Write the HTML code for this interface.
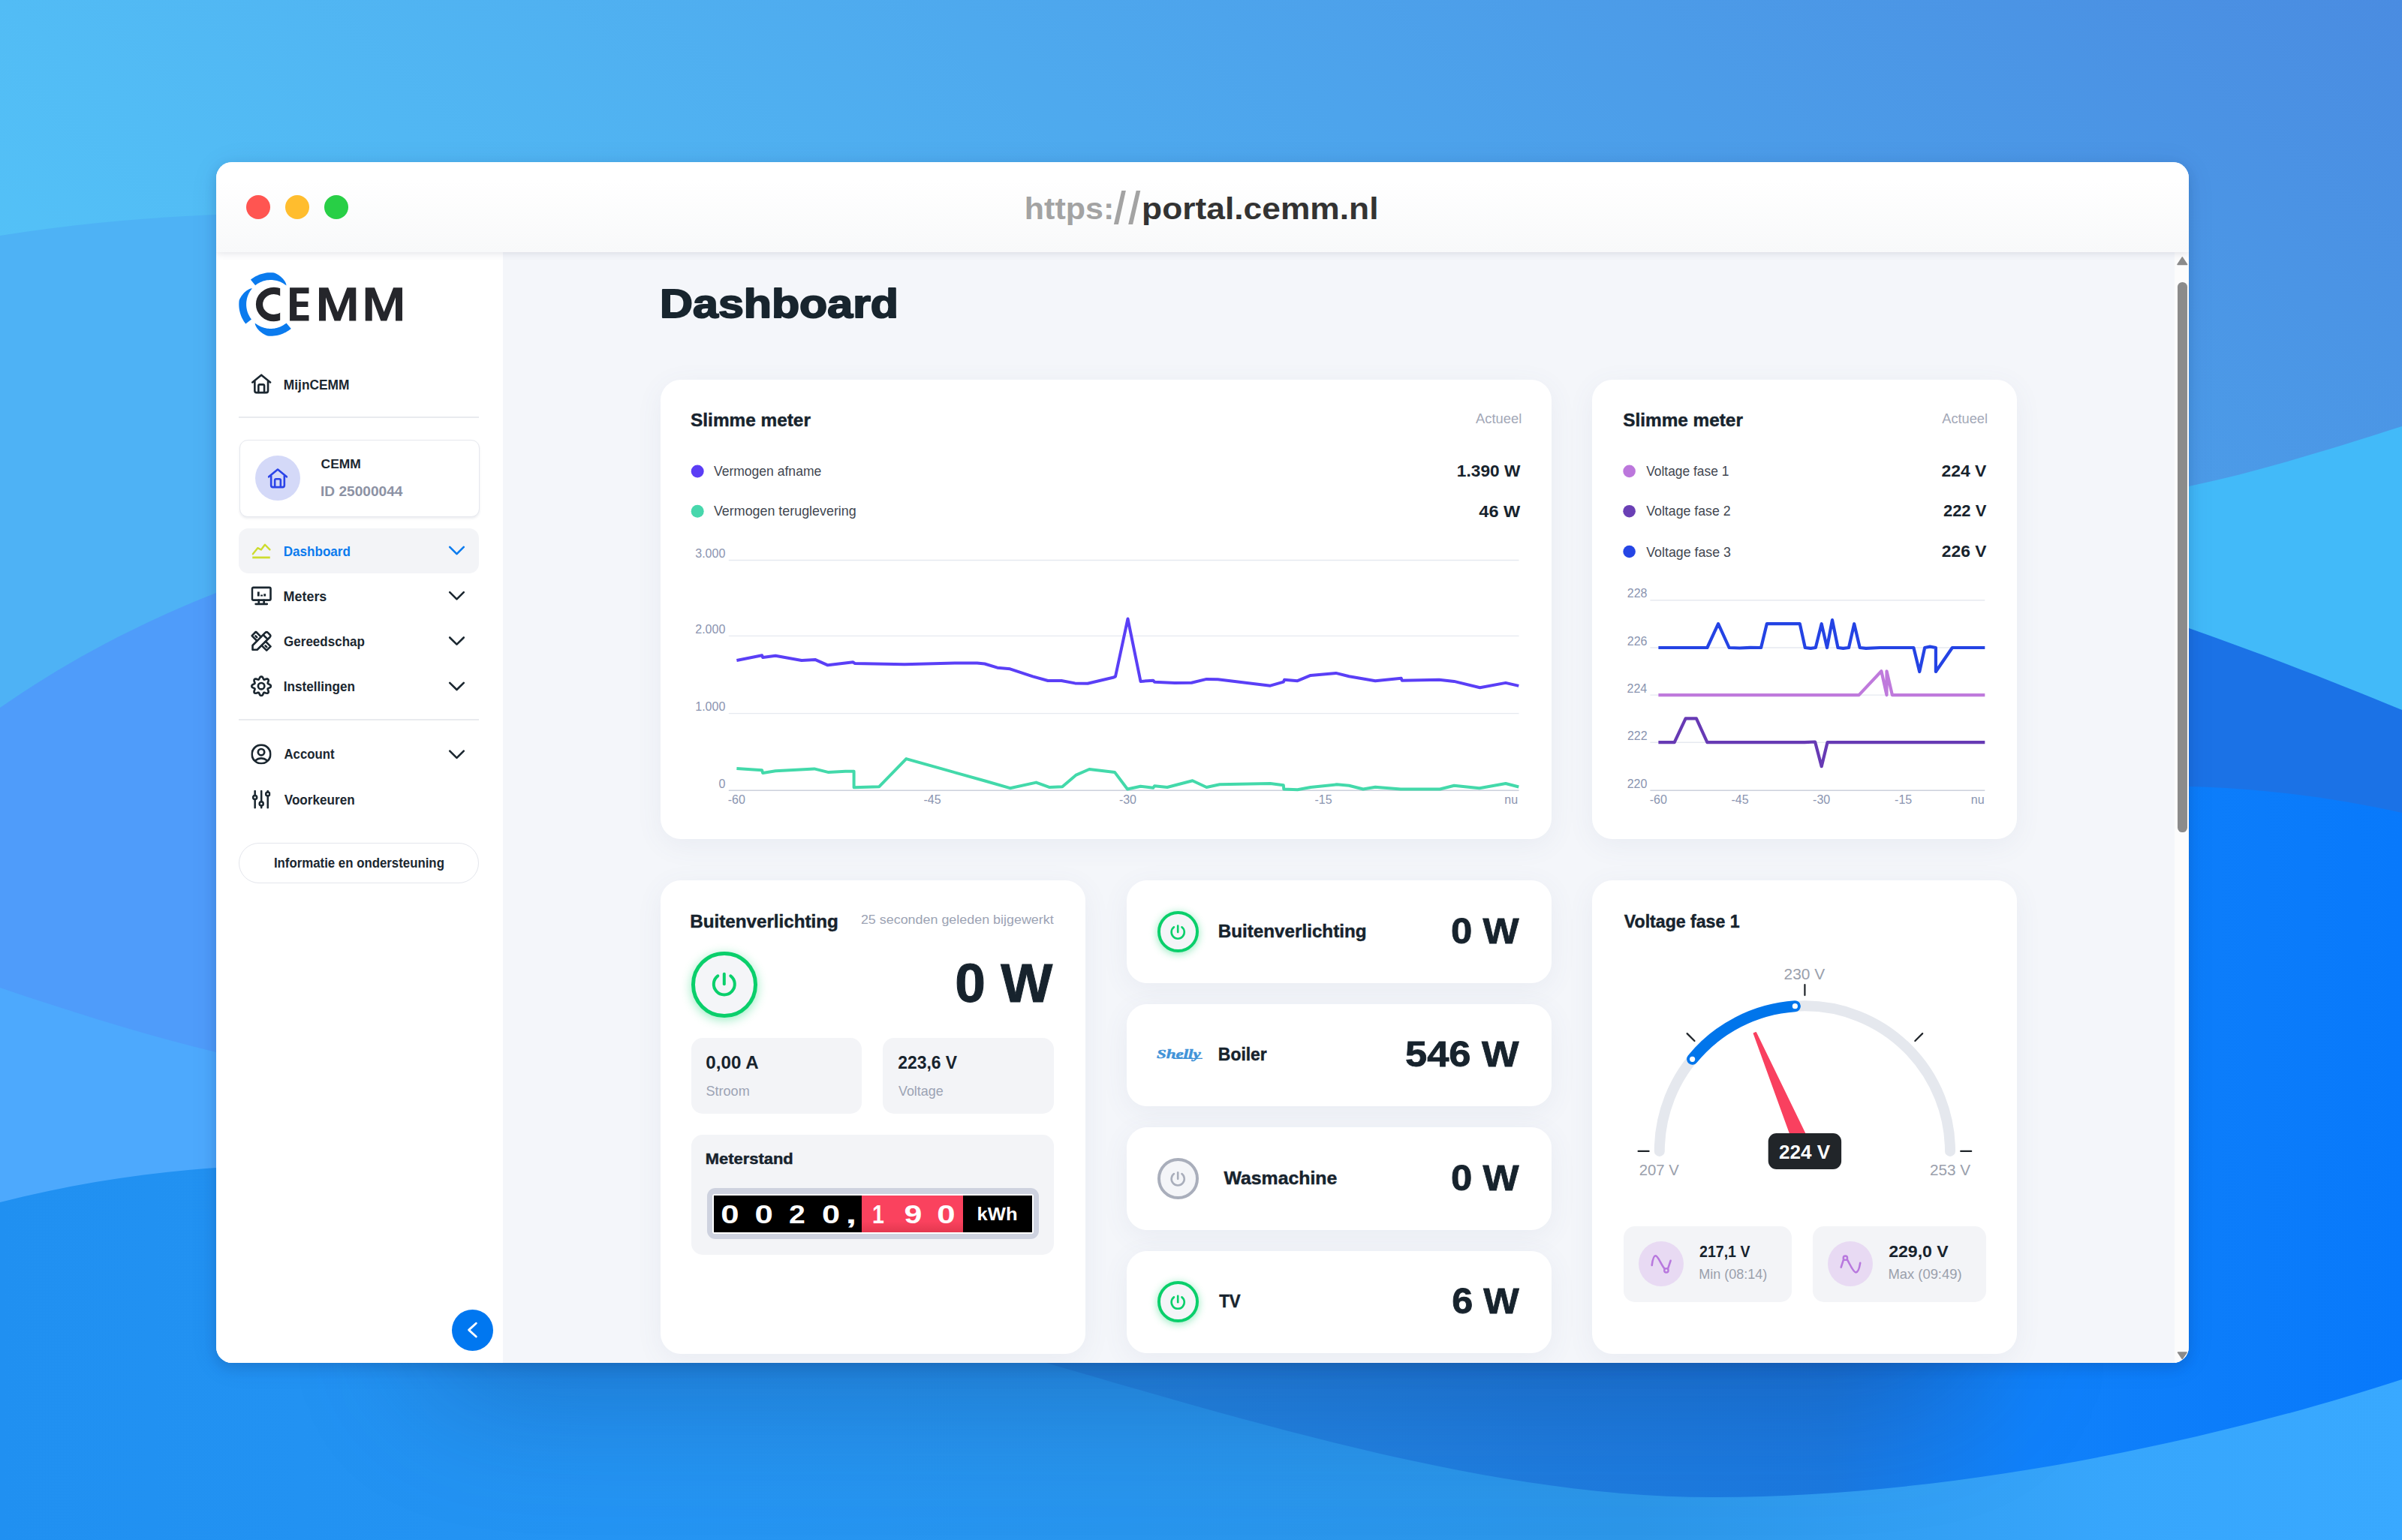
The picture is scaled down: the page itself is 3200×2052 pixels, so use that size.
<!DOCTYPE html><html lang="nl"><head><meta charset="utf-8"><title>CEMM Dashboard</title><style>
*{margin:0;padding:0;box-sizing:border-box}
html,body{width:3200px;height:2052px;overflow:hidden;background:#2a8ff0;font-family:"Liberation Sans",sans-serif}
.bg{position:absolute;left:0;top:0}
.abs{position:absolute}
.winshadow{position:absolute;left:560px;top:1650px;width:2080px;height:210px;border-radius:105px;background:rgba(10,50,115,.30);filter:blur(85px)}
.win{position:absolute;left:288px;top:216px;width:2628px;height:1599.5px;border-radius:21px;background:#F4F6FA;overflow:hidden;}
.winsh{position:absolute;left:288px;top:216px;width:2628px;height:1599.5px;border-radius:21px;box-shadow:0 6px 16px rgba(10,40,100,.18),0 4px 40px rgba(10,40,100,.07)}
.titlebar{position:absolute;left:0;top:0;width:2628px;height:120px;background:linear-gradient(#ffffff 20%,#F8F9FA);box-shadow:0 1px 10px rgba(60,70,100,.16);z-index:5}
.dot{position:absolute;top:44px;width:32px;height:32px;border-radius:50%}
.sidebar{position:absolute;left:0;top:120px;width:382px;height:1480px;background:#fff}
.card{position:absolute;background:#fff;border-radius:27px;box-shadow:0 8px 36px rgba(90,100,140,.07)}
.sub{position:absolute;background:#F3F4F7;border-radius:15px}
.scroll{position:absolute;left:2609px;top:120px;width:19px;height:1480px;background:#FCFCFC}
svg.ov{position:absolute;left:0;top:0;overflow:visible;z-index:10}
text{font-family:"Liberation Sans",sans-serif}
</style></head><body>

<svg class="bg" width="3200" height="2052" viewBox="0 0 3200 2052">
 <defs>
  <linearGradient id="g0" gradientUnits="userSpaceOnUse" x1="-261" y1="303" x2="1365" y2="-1584">
   <stop offset="0" stop-color="#54C4F8"/><stop offset="0.161" stop-color="#52BCF5"/><stop offset="0.58" stop-color="#4DA4EC"/><stop offset="1" stop-color="#4A8CE1"/>
  </linearGradient>
  <linearGradient id="gBot" gradientUnits="userSpaceOnUse" x1="0" y1="0" x2="3200" y2="0">
   <stop offset="0" stop-color="#2090F1"/><stop offset="0.25" stop-color="#2494F3"/><stop offset="0.68" stop-color="#2C96E8"/><stop offset="0.88" stop-color="#37A6FC"/><stop offset="1" stop-color="#39A9FF"/>
  </linearGradient>
  <linearGradient id="gR3" gradientUnits="userSpaceOnUse" x1="1300" y1="0" x2="3200" y2="0">
   <stop offset="0" stop-color="#2689E3"/><stop offset="0.4" stop-color="#1F7CDE"/><stop offset="0.6" stop-color="#1B79E0"/><stop offset="0.74" stop-color="#1081FA"/><stop offset="1" stop-color="#0879FB"/>
  </linearGradient>
 </defs>
 <rect width="3200" height="2052" fill="url(#g0)"/>
 <!-- left zones -->
 <path d="M0,314 C100,298 200,290 288,286 S900,270 1400,300 L1400,2052 L0,2052 Z" fill="#4EB2F5"/>
 <path d="M0,943 C90,880 190,828 288,790 S700,680 1400,640 L1400,2052 L0,2052 Z" fill="#4F9CFA"/>
 <path d="M0,1316 C100,1350 190,1378 288,1402 S800,1500 1400,1560 L1400,2052 L0,2052 Z" fill="#4DA9FD"/>
 <!-- right zones -->
 <path d="M3200,568 C3100,600 3010,628 2916,648 S2500,740 2000,760 L2000,2052 L3200,2052 Z" fill="#42BAF9"/>
 <path d="M3200,946 C3100,905 3010,870 2916,837 S2500,700 2000,640 L2000,2052 L3200,2052 Z" fill="#1B72E6"/>
 <path d="M3200,1083 C3110,1063 3010,1050 2916,1048 S2400,1080 2000,1200 L1300,1700 L1300,2052 L3200,2052 Z" fill="url(#gR3)"/>
 <!-- bottom zone -->
 <path d="M0,1602 C95,1578 190,1563 288,1556 S800,1530 1100,1600 C1200,1760 1300,1790 1380,1812 C1700,1905 2000,1995 2282,1995 C2600,1995 2950,1920 3200,1838 L3200,2052 L0,2052 Z" fill="url(#gBot)"/>
</svg>

<div class="winshadow"></div><div class="winsh"></div>
<div class="win">
<div class="titlebar"><div class="dot" style="left:40px;background:#FF5551"></div><div class="dot" style="left:92px;background:#FFBD2E"></div><div class="dot" style="left:144px;background:#28CF46"></div></div>
<div class="sidebar"></div>
<div class="abs" style="left:30.0px;top:339.0px;width:320.0px;height:1.5px;background:#E9EBEF"></div>
<div class="abs" style="left:30.5px;top:370.0px;width:320.0px;height:103.0px;border:1.5px solid #E6E8EE;border-radius:11px;background:#fff;box-shadow:0 2px 3px rgba(80,90,120,.10)"></div>
<div class="abs" style="left:52.0px;top:391.4px;width:60.0px;height:60.0px;border-radius:50%;background:#D4D9F8"></div>
<div class="abs" style="left:30.0px;top:488.0px;width:320.0px;height:59.5px;border-radius:13px;background:#F3F4F7"></div>
<div class="abs" style="left:30.0px;top:742.3px;width:320.0px;height:1.5px;background:#E9EBEF"></div>
<div class="abs" style="left:30.0px;top:907.0px;width:320.0px;height:54.0px;border-radius:27px;border:1.5px solid #E4E6EC;background:#fff"></div>
<div class="abs" style="left:313.6px;top:1528.7px;width:55.0px;height:55.0px;border-radius:50%;background:#0077F0"></div>
<div class="card" style="left:592.0px;top:290.0px;width:1186.7px;height:612.0px;"></div>
<div class="card" style="left:1833.3px;top:290.0px;width:566.2px;height:612.0px;"></div>
<div class="card" style="left:592.0px;top:957.4px;width:565.7px;height:630.3px;"></div>
<div class="card" style="left:1212.8px;top:957.4px;width:565.9px;height:136.6px;"></div>
<div class="card" style="left:1212.8px;top:1121.8px;width:565.9px;height:136.6px;"></div>
<div class="card" style="left:1212.8px;top:1286.1px;width:565.9px;height:136.6px;"></div>
<div class="card" style="left:1212.8px;top:1450.5px;width:565.9px;height:136.6px;"></div>
<div class="card" style="left:1833.3px;top:957.4px;width:566.2px;height:630.3px;"></div>
<div class="sub" style="left:633.3px;top:1167.1px;width:227.0px;height:101.3px;"></div>
<div class="sub" style="left:887.7px;top:1167.1px;width:228.7px;height:101.3px;"></div>
<div class="sub" style="left:633.3px;top:1296.0px;width:483.1px;height:160.4px;"></div>
<div class="sub" style="left:1874.6px;top:1417.8px;width:224.6px;height:101.2px;"></div>
<div class="sub" style="left:2127.0px;top:1417.8px;width:231.2px;height:101.2px;"></div>
<div class="abs" style="left:653.8px;top:1367.4px;width:441.8px;height:67.9px;border-radius:11px;background:#CED2DF"></div>
<div class="abs" style="left:661.3px;top:1374.6px;width:427.7px;height:53.3px;border-radius:3px;background:#fff"></div>
<div class="abs" style="left:663.2px;top:1376.7px;width:423.8px;height:49.3px;background:#000"></div>
<div class="abs" style="left:860.3px;top:1376.7px;width:134.6px;height:49.3px;background:linear-gradient(#FA425E 70%,#E3384F)"></div>
<div class="abs" style="left:633.3px;top:1052.2px;width:87.5px;height:87.5px;border-radius:50%;border:5.6px solid #0ACF6B;background:#F4F5F8;box-shadow:0 3px 14px rgba(10,207,107,.42)"></div>
<div class="abs" style="left:1253.9px;top:998.2px;width:54.7px;height:54.7px;border-radius:50%;border:4.1px solid #0ACF6B;background:#F4F5F8;box-shadow:0 2px 11px rgba(10,207,107,.45);"></div>
<div class="abs" style="left:1253.9px;top:1327.0px;width:54.7px;height:54.7px;border-radius:50%;border:4.1px solid #A9AEBB;background:#F4F5F8;"></div>
<div class="abs" style="left:1253.9px;top:1491.4px;width:54.7px;height:54.7px;border-radius:50%;border:4.1px solid #0ACF6B;background:#F4F5F8;box-shadow:0 2px 11px rgba(10,207,107,.45);"></div>
<div class="abs" style="left:1895.2px;top:1438.0px;width:60.3px;height:60.3px;border-radius:50%;background:#E8DAF3"></div>
<div class="abs" style="left:2147.2px;top:1438.0px;width:60.3px;height:60.3px;border-radius:50%;background:#E8DAF3"></div>
<div class="scroll"></div>
<div class="abs" style="left:2613.0px;top:159.6px;width:12.5px;height:733.0px;border-radius:6.3px;background:#8B8B8B"></div>
<svg class="ov" width="2628" height="1600" viewBox="288 216 2628 1600">
<text x="1364.80" y="291.8" font-size="41.50" font-weight="700" fill="#A3A3A3" textLength="119.44" lengthAdjust="spacingAndGlyphs">https:</text>
<polygon points="1483.9,298.9 1489.9,298.9 1499.9,254.1 1494.2,254.1" fill="#A3A3A3"/>
<polygon points="1503.2,298.9 1509.1,298.9 1519.3,254.1 1513.7,254.1" fill="#A3A3A3"/>
<text x="1521.08" y="291.8" font-size="41.50" font-weight="700" fill="#333333" textLength="315.46" lengthAdjust="spacingAndGlyphs">portal.cemm.nl</text>
<path d="M2901 352.5 L2907.3 342.8 L2913.6 352.5 Z" fill="#8B8B8B" stroke="#8B8B8B" stroke-width="1.5" stroke-linejoin="round"/>
<path d="M2901.5 1802 L2907.3 1810.5 L2913.1 1802 Z" fill="#8B8B8B" stroke="#8B8B8B" stroke-width="1.5" stroke-linejoin="round"/>
<polygon fill="#25262B" points="386.06,383.30 411.50,383.30 411.50,390.88 395.26,390.88 395.26,401.70 410.41,401.70 410.41,408.95 395.26,408.95 395.26,420.10 411.50,420.10 411.50,427.46 386.06,427.46"/>
<polygon fill="#25262B" points="425.03,383.30 437.26,383.30 449.92,415.77 462.37,383.30 474.28,383.30 474.28,427.46 465.30,427.46 465.30,396.29 453.50,427.46 445.59,427.46 434.01,396.29 434.01,427.46 425.03,427.46"/>
<polygon fill="#25262B" points="486.73,383.30 498.96,383.30 511.63,415.77 524.07,383.30 535.98,383.30 535.98,427.46 527.00,427.46 527.00,396.29 515.20,427.46 507.30,427.46 495.71,396.29 495.71,427.46 486.73,427.46"/>
<clipPath id="cclip"><rect x="330" y="370" width="43.18" height="70"/></clipPath>
<ellipse cx="364.95" cy="405.49" rx="19.43" ry="18.13" fill="none" stroke="#25262B" stroke-width="9.2" clip-path="url(#cclip)"/>
<polygon fill="#0B7BEE" points="381.49,380.60 381.17,378.38 380.41,376.53 379.44,374.80 378.31,373.17 377.05,371.62 375.65,370.16 374.15,368.78 372.53,367.49 370.82,366.29 369.01,365.19 367.12,364.19 365.13,363.44 363.05,363.27 360.97,363.20 358.89,363.23 356.81,363.37 354.74,363.61 352.68,363.95 350.65,364.39 348.64,364.93 346.65,365.57 344.71,366.30 342.79,367.13 340.93,368.05 339.11,369.07 337.34,370.17 335.63,371.36 333.98,372.63 340.15,380.24 341.42,379.27 342.73,378.35 344.09,377.51 345.49,376.73 346.92,376.02 348.39,375.38 349.89,374.82 351.41,374.33 352.95,373.91 354.52,373.57 356.10,373.31 357.69,373.13 359.28,373.03 360.88,373.00 362.48,373.05 364.08,373.19 365.66,373.40 367.24,373.69 368.80,374.05 370.33,374.49 371.85,375.01 373.34,375.60 374.79,376.26 376.21,377.00 377.60,377.80 378.94,378.67 380.24,379.61 381.49,380.60"/>
<polygon fill="#0B7BEE" points="336.07,384.18 333.84,384.46 331.98,385.19 330.24,386.13 328.58,387.23 327.01,388.47 325.52,389.83 324.12,391.31 322.80,392.91 321.58,394.60 320.44,396.39 319.41,398.26 318.63,400.24 318.42,402.31 318.31,404.39 318.31,406.48 318.41,408.56 318.61,410.63 318.92,412.69 319.32,414.73 319.82,416.75 320.43,418.75 321.13,420.71 321.92,422.63 322.82,424.52 323.80,426.35 324.87,428.14 326.03,429.87 327.27,431.54 334.99,425.51 334.04,424.22 333.15,422.89 332.32,421.52 331.57,420.11 330.89,418.66 330.27,417.18 329.73,415.68 329.27,414.15 328.88,412.59 328.57,411.02 328.34,409.44 328.18,407.85 328.11,406.25 328.11,404.65 328.19,403.05 328.35,401.46 328.59,399.88 328.91,398.31 329.30,396.76 329.77,395.23 330.31,393.72 330.93,392.24 331.61,390.80 332.37,389.39 333.20,388.02 334.09,386.69 335.05,385.41 336.07,384.18"/>
<polygon fill="#0B7BEE" points="339.71,430.40 340.04,432.64 340.83,434.50 341.82,436.23 342.97,437.88 344.26,439.43 345.68,440.90 347.21,442.28 348.86,443.57 350.60,444.77 352.44,445.86 354.37,446.85 356.39,447.59 358.49,447.75 360.60,447.80 362.71,447.75 364.81,447.59 366.90,447.33 368.98,446.96 371.04,446.49 373.07,445.92 375.07,445.25 377.03,444.48 378.95,443.61 380.83,442.65 382.66,441.59 384.43,440.45 386.14,439.22 387.79,437.90 381.49,430.40 380.22,431.41 378.91,432.35 377.55,433.23 376.14,434.04 374.70,434.78 373.22,435.45 371.72,436.04 370.18,436.56 368.62,437.00 367.04,437.36 365.44,437.64 363.84,437.84 362.22,437.96 360.60,438.00 358.98,437.96 357.36,437.84 355.76,437.64 354.16,437.36 352.58,437.00 351.02,436.56 349.48,436.04 347.98,435.45 346.50,434.78 345.06,434.04 343.65,433.23 342.29,432.35 340.98,431.41 339.71,430.40"/>
<svg x="334.6" y="497.9" width="27.2" height="27.2" viewBox="0 0 24 24" fill="none" stroke="#1B2730" stroke-width="2.3" stroke-linecap="round" stroke-linejoin="round"><path d="M1.5 10.2 L12 1.6 L22.5 10.2"/><path d="M4.2 9.2 V20.2 Q4.2 22.3 6.3 22.3 H17.7 Q19.8 22.3 19.8 20.2 V9.2"/><path d="M8.6 22 V14.2 Q8.6 12.8 10 12.8 H14 Q15.4 12.8 15.4 14.2 V22"/></svg>
<text x="377.84" y="518.6" font-size="17.88" font-weight="700" fill="#1B2730" textLength="87.62" lengthAdjust="spacingAndGlyphs">MijnCEMM</text>
<svg x="356.4" y="623.8" width="27.2" height="27.2" viewBox="0 0 24 24" fill="none" stroke="#2B44E8" stroke-width="2.3" stroke-linecap="round" stroke-linejoin="round"><path d="M1.5 10.2 L12 1.6 L22.5 10.2"/><path d="M4.2 9.2 V20.2 Q4.2 22.3 6.3 22.3 H17.7 Q19.8 22.3 19.8 20.2 V9.2"/><path d="M8.6 22 V14.2 Q8.6 12.8 10 12.8 H14 Q15.4 12.8 15.4 14.2 V22"/></svg>
<text x="427.58" y="623.6" font-size="17.15" font-weight="700" fill="#1B2730" textLength="53.28" lengthAdjust="spacingAndGlyphs">CEMM</text>
<text x="427.02" y="660.7" font-size="17.59" font-weight="700" fill="#8C92A4" textLength="109.38" lengthAdjust="spacingAndGlyphs">ID 25000044</text>
<svg x="335.4" y="722.7" width="26" height="26" viewBox="0 0 24 24" fill="none" stroke="#CDDC2E" stroke-width="2.2" stroke-linecap="round" stroke-linejoin="round"><path d="M1.3 14.4 L7.3 6.9 L11.5 9 L16.2 2.8 L22.2 9"/><path d="M0.8 18.7 H22.5" stroke-width="2.6" stroke-linecap="butt"/></svg>
<text x="377.66" y="740.5" font-size="17.73" font-weight="700" fill="#0B7BEE" textLength="89.27" lengthAdjust="spacingAndGlyphs">Dashboard</text>
<path d="M599.2 728.9 L608.5 738.1 L617.8 728.9" fill="none" stroke="#0B7BEE" stroke-width="2.6" stroke-linecap="round" stroke-linejoin="round"/>
<svg x="334.4" y="780.2" width="27.6" height="27.6" viewBox="0 0 24 24" fill="none" stroke="#1B2730" stroke-width="2.3" stroke-linecap="round" stroke-linejoin="round"><rect x="1.3" y="2.3" width="21.4" height="14.6" rx="1.4"/><path d="M8.6 7.3 V12.5 M12.3 10.6 V12.5 M15.9 9.6 V12.5" stroke-width="2.5" stroke-linecap="butt"/><path d="M9 17 V21.2 M15 17 V21.2 M5.4 21.4 H18.6"/></svg>
<text x="377.60" y="800.6" font-size="17.73" font-weight="700" fill="#1B2730" textLength="57.73" lengthAdjust="spacingAndGlyphs">Meters</text>
<path d="M599.2 789.2 L608.5 798.4 L617.8 789.2" fill="none" stroke="#1B2730" stroke-width="2.6" stroke-linecap="round" stroke-linejoin="round"/>
<svg x="334.2" y="840.4" width="27.8" height="27.8" viewBox="0 0 24 24" fill="none" stroke="#1B2730" stroke-width="2.25" stroke-linecap="round" stroke-linejoin="round"><path d="M2 21.9 V16.9 L16.7 2.2 Q18.1 0.9 19.5 2.2 L21.9 4.6 Q23.2 6 21.9 7.4 L7.3 21.9 Z"/><path d="M14.7 5.3 L19 9.5"/><path d="M6.9 11.5 L1.2 5.8 L5.8 1.2 L11.5 6.9"/><path d="M17 12.4 L22.7 18.1 L18.1 22.7 L12.4 17"/><path d="M5.4 6 L6.9 7.5 M16.7 17.3 L18.2 18.8"/></svg>
<text x="378.10" y="861.2" font-size="17.73" font-weight="700" fill="#1B2730" textLength="107.80" lengthAdjust="spacingAndGlyphs">Gereedschap</text>
<path d="M599.2 849.5 L608.5 858.7 L617.8 849.5" fill="none" stroke="#1B2730" stroke-width="2.6" stroke-linecap="round" stroke-linejoin="round"/>
<svg x="334.1" y="900.2" width="28" height="28" viewBox="0 0 24 24" fill="none" stroke="#1B2730" stroke-width="2.3" stroke-linecap="round" stroke-linejoin="round"><circle cx="12" cy="12" r="3.6"/><path d="M12.00 1.00 L12.71 1.19 L13.35 1.74 L13.88 2.56 L14.29 3.46 L14.65 4.20 L15.06 4.61 L15.64 4.62 L16.42 4.34 L17.35 4.00 L18.30 3.79 L19.14 3.86 L19.78 4.22 L20.14 4.86 L20.21 5.70 L20.00 6.65 L19.66 7.58 L19.38 8.36 L19.39 8.94 L19.80 9.35 L20.54 9.71 L21.44 10.12 L22.26 10.65 L22.81 11.29 L23.00 12.00 L22.81 12.71 L22.26 13.35 L21.44 13.88 L20.54 14.29 L19.80 14.65 L19.39 15.06 L19.38 15.64 L19.66 16.42 L20.00 17.35 L20.21 18.30 L20.14 19.14 L19.78 19.78 L19.14 20.14 L18.30 20.21 L17.35 20.00 L16.42 19.66 L15.64 19.38 L15.06 19.39 L14.65 19.80 L14.29 20.54 L13.88 21.44 L13.35 22.26 L12.71 22.81 L12.00 23.00 L11.29 22.81 L10.65 22.26 L10.12 21.44 L9.71 20.54 L9.35 19.80 L8.94 19.39 L8.36 19.38 L7.58 19.66 L6.65 20.00 L5.70 20.21 L4.86 20.14 L4.22 19.78 L3.86 19.14 L3.79 18.30 L4.00 17.35 L4.34 16.42 L4.62 15.64 L4.61 15.06 L4.20 14.65 L3.46 14.29 L2.56 13.88 L1.74 13.35 L1.19 12.71 L1.00 12.00 L1.19 11.29 L1.74 10.65 L2.56 10.12 L3.46 9.71 L4.20 9.35 L4.61 8.94 L4.62 8.36 L4.34 7.58 L4.00 6.65 L3.79 5.70 L3.86 4.86 L4.22 4.22 L4.86 3.86 L5.70 3.79 L6.65 4.00 L7.58 4.34 L8.36 4.62 L8.94 4.61 L9.35 4.20 L9.71 3.46 L10.12 2.56 L10.65 1.74 L11.29 1.19 Z"/></svg>
<text x="377.65" y="921.4" font-size="17.73" font-weight="700" fill="#1B2730" textLength="95.41" lengthAdjust="spacingAndGlyphs">Instellingen</text>
<path d="M599.2 909.8 L608.5 919.0 L617.8 909.8" fill="none" stroke="#1B2730" stroke-width="2.6" stroke-linecap="round" stroke-linejoin="round"/>
<svg x="334.4" y="991.3" width="27.2" height="27.2" viewBox="0 0 24 24" fill="none" stroke="#1B2730" stroke-width="2.4" stroke-linecap="round" stroke-linejoin="round"><circle cx="12" cy="12" r="10.9"/><circle cx="12" cy="9.6" r="3.7"/><path d="M4.8 19.6 Q12 14.2 19.2 19.6"/></svg>
<text x="378.48" y="1011.4" font-size="17.73" font-weight="700" fill="#1B2730" textLength="67.12" lengthAdjust="spacingAndGlyphs">Account</text>
<path d="M599.2 1000.6 L608.5 1009.8 L617.8 1000.6" fill="none" stroke="#1B2730" stroke-width="2.6" stroke-linecap="round" stroke-linejoin="round"/>
<svg x="336.0" y="1053.0" width="24.4" height="24.4" viewBox="0 0 24 24" fill="none" stroke="#1B2730" stroke-width="2.5" stroke-linecap="round" stroke-linejoin="round"><path d="M3.6 1 V6.8 M3.6 12 V23 M12 1 V15 M12 20.2 V23 M20.4 1 V2.3 M20.4 7.5 V23"/><circle cx="3.6" cy="9.4" r="2.5"/><circle cx="12" cy="17.6" r="2.5"/><circle cx="20.4" cy="4.9" r="2.5"/></svg>
<text x="378.78" y="1071.9" font-size="17.73" font-weight="700" fill="#1B2730" textLength="93.86" lengthAdjust="spacingAndGlyphs">Voorkeuren</text>
<text x="364.88" y="1155.5" font-size="17.44" font-weight="700" fill="#1B2730" textLength="227.05" lengthAdjust="spacingAndGlyphs">Informatie en ondersteuning</text>
<path d="M634.3 1763.2 L624.6 1772.1 L634.3 1781" fill="none" stroke="#fff" stroke-width="2.8" stroke-linecap="round" stroke-linejoin="round"/>
<text x="879.13" y="422.8" font-size="53.49" font-weight="700" fill="#18252E" textLength="317.88" lengthAdjust="spacingAndGlyphs" stroke="#18252E" stroke-width="2" stroke-linejoin="round">Dashboard</text>
<text x="920.10" y="568.3" font-size="24.13" font-weight="700" fill="#17232D" textLength="159.77" lengthAdjust="spacingAndGlyphs" stroke="#17232D" stroke-width="0.45">Slimme meter</text>
<text x="1965.96" y="564.0" font-size="17.50" font-weight="400" fill="#A3A8B7" textLength="61.26" lengthAdjust="spacingAndGlyphs">Actueel</text>
<circle cx="929.2" cy="628" r="8.5" fill="#5B3DF5"/><circle cx="929.2" cy="681.3" r="8.5" fill="#47D7AC"/>
<text x="950.92" y="633.7" font-size="18.17" font-weight="400" fill="#3F4650" textLength="143.35" lengthAdjust="spacingAndGlyphs">Vermogen afname</text>
<text x="950.92" y="687.0" font-size="18.17" font-weight="400" fill="#3F4650" textLength="189.82" lengthAdjust="spacingAndGlyphs">Vermogen teruglevering</text>
<text x="1940.87" y="635.2" font-size="22.97" font-weight="700" fill="#17232D" textLength="84.45" lengthAdjust="spacingAndGlyphs">1.390 W</text>
<text x="1970.34" y="688.5" font-size="22.97" font-weight="700" fill="#17232D" textLength="54.98" lengthAdjust="spacingAndGlyphs">46 W</text>
<path d="M970.8 746.5 H2023.5" stroke="#E6E9F0" stroke-width="1.4"/>
<text x="926.29" y="743.2" font-size="16.00" font-weight="400" fill="#8A94B0" textLength="40.04" lengthAdjust="spacingAndGlyphs">3.000</text>
<path d="M970.8 847.4 H2023.5" stroke="#E6E9F0" stroke-width="1.4"/>
<text x="926.29" y="844.1" font-size="16.00" font-weight="400" fill="#8A94B0" textLength="40.04" lengthAdjust="spacingAndGlyphs">2.000</text>
<path d="M970.8 950.6 H2023.5" stroke="#E6E9F0" stroke-width="1.4"/>
<text x="926.29" y="947.3" font-size="16.00" font-weight="400" fill="#8A94B0" textLength="40.04" lengthAdjust="spacingAndGlyphs">1.000</text>
<path d="M970.8 1053.3 H2023.5" stroke="#CBD0DB" stroke-width="1.4"/>
<text x="957.43" y="1050.0" font-size="16.00" font-weight="400" fill="#8A94B0" textLength="8.90" lengthAdjust="spacingAndGlyphs">0</text>
<text x="969.79" y="1070.7" font-size="16.00" font-weight="400" fill="#8A94B0" textLength="23.12" lengthAdjust="spacingAndGlyphs">-60</text>
<text x="1230.42" y="1070.7" font-size="16.00" font-weight="400" fill="#8A94B0" textLength="23.12" lengthAdjust="spacingAndGlyphs">-45</text>
<text x="1490.89" y="1070.7" font-size="16.00" font-weight="400" fill="#8A94B0" textLength="23.12" lengthAdjust="spacingAndGlyphs">-30</text>
<text x="1751.42" y="1070.7" font-size="16.00" font-weight="400" fill="#8A94B0" textLength="23.12" lengthAdjust="spacingAndGlyphs">-15</text>
<text x="2004.27" y="1070.7" font-size="16.00" font-weight="400" fill="#8A94B0" textLength="17.80" lengthAdjust="spacingAndGlyphs">nu</text>
<polyline points="981.4,1023.9 1015.1,1026.2 1016.2,1030.0 1033.1,1027.3 1084.8,1024.4 1103.9,1029.1 1126.4,1027.8 1137.6,1027.8 1137.6,1049.3 1171.3,1048.2 1207.3,1011.1 1313.0,1040.8 1345.6,1050.2 1380.4,1042.6 1398.4,1049.1 1415.3,1048.2 1433.2,1032.9 1451.2,1025.0 1485.0,1028.9 1502.0,1051.5 1519.5,1047.8 1536.2,1049.8 1538.0,1047.3 1555.0,1049.0 1588.7,1040.3 1607.4,1049.0 1624.9,1045.3 1692.3,1044.0 1709.8,1046.3 1710.3,1051.5 1728.6,1052.3 1746.0,1049.0 1781.0,1045.3 1797.3,1046.8 1816.0,1051.5 1832.2,1048.8 1866.0,1051.5 1918.4,1051.5 1937.2,1046.8 1970.9,1050.3 2005.9,1044.0 2023.3,1048.5" fill="none" stroke="#43D9AA" stroke-width="4.0" stroke-linejoin="round" stroke-linecap="butt"/>
<polyline points="981.4,880.0 1015.1,873.3 1016.2,876.0 1033.1,873.8 1067.9,880.0 1085.9,878.9 1102.8,886.3 1136.5,882.3 1138.7,883.9 1205.0,885.2 1274.7,883.4 1301.7,883.4 1311.8,884.5 1328.7,889.7 1345.6,891.3 1375.9,901.4 1396.1,907.0 1414.1,907.0 1432.1,910.4 1449.0,910.8 1483.8,902.5 1486.0,901.4 1502.5,824.5 1519.5,907.9 1536.2,906.7 1538.0,908.7 1565.0,909.9 1587.4,909.7 1607.4,904.9 1622.4,905.2 1692.3,913.7 1709.8,908.7 1711.1,905.7 1728.6,907.2 1746.0,899.9 1779.8,896.9 1797.3,901.2 1832.2,907.2 1866.7,903.7 1867.7,906.7 1917.2,905.7 1937.2,907.9 1971.6,916.2 2005.9,909.9 2023.3,913.9" fill="none" stroke="#5A3FF6" stroke-width="4.0" stroke-linejoin="round" stroke-linecap="butt"/>
<text x="2162.30" y="568.3" font-size="24.13" font-weight="700" fill="#17232D" textLength="159.57" lengthAdjust="spacingAndGlyphs" stroke="#17232D" stroke-width="0.45">Slimme meter</text>
<text x="2587.26" y="564.0" font-size="17.50" font-weight="400" fill="#A3A8B7" textLength="60.75" lengthAdjust="spacingAndGlyphs">Actueel</text>
<circle cx="2170.6" cy="627.9" r="8.3" fill="#BC77DC"/><circle cx="2170.6" cy="681.2" r="8.3" fill="#6A3FB5"/><circle cx="2170.6" cy="735" r="8.3" fill="#2545E5"/>
<text x="2193.22" y="633.7" font-size="18.17" font-weight="400" fill="#3F4650" textLength="110.12" lengthAdjust="spacingAndGlyphs">Voltage fase 1</text>
<text x="2193.22" y="687.0" font-size="18.17" font-weight="400" fill="#3F4650" textLength="112.36" lengthAdjust="spacingAndGlyphs">Voltage fase 2</text>
<text x="2193.22" y="741.5" font-size="18.17" font-weight="400" fill="#3F4650" textLength="112.75" lengthAdjust="spacingAndGlyphs">Voltage fase 3</text>
<text x="2586.40" y="634.5" font-size="22.97" font-weight="700" fill="#17232D" textLength="59.95" lengthAdjust="spacingAndGlyphs">224 V</text>
<text x="2588.94" y="687.8" font-size="22.97" font-weight="700" fill="#17232D" textLength="57.41" lengthAdjust="spacingAndGlyphs">222 V</text>
<text x="2586.81" y="742.3" font-size="22.97" font-weight="700" fill="#17232D" textLength="59.55" lengthAdjust="spacingAndGlyphs">226 V</text>
<path d="M2198.4 799.7 H2644.3" stroke="#E6E9F0" stroke-width="1.4"/>
<text x="2167.80" y="796.4" font-size="16.00" font-weight="400" fill="#8A94B0" textLength="26.70" lengthAdjust="spacingAndGlyphs">228</text>
<path d="M2198.4 863 H2644.3" stroke="#E6E9F0" stroke-width="1.4"/>
<text x="2167.81" y="859.7" font-size="16.00" font-weight="400" fill="#8A94B0" textLength="26.70" lengthAdjust="spacingAndGlyphs">226</text>
<path d="M2198.4 926.1 H2644.3" stroke="#E6E9F0" stroke-width="1.4"/>
<text x="2167.57" y="922.8" font-size="16.00" font-weight="400" fill="#8A94B0" textLength="26.70" lengthAdjust="spacingAndGlyphs">224</text>
<path d="M2198.4 989.2 H2644.3" stroke="#E6E9F0" stroke-width="1.4"/>
<text x="2167.91" y="985.9" font-size="16.00" font-weight="400" fill="#8A94B0" textLength="26.70" lengthAdjust="spacingAndGlyphs">222</text>
<path d="M2198.4 1053.2 H2644.3" stroke="#CBD0DB" stroke-width="1.4"/>
<text x="2167.73" y="1049.9" font-size="16.00" font-weight="400" fill="#8A94B0" textLength="26.70" lengthAdjust="spacingAndGlyphs">220</text>
<text x="2197.79" y="1070.7" font-size="16.00" font-weight="400" fill="#8A94B0" textLength="23.12" lengthAdjust="spacingAndGlyphs">-60</text>
<text x="2306.42" y="1070.7" font-size="16.00" font-weight="400" fill="#8A94B0" textLength="23.12" lengthAdjust="spacingAndGlyphs">-45</text>
<text x="2415.09" y="1070.7" font-size="16.00" font-weight="400" fill="#8A94B0" textLength="23.12" lengthAdjust="spacingAndGlyphs">-30</text>
<text x="2524.12" y="1070.7" font-size="16.00" font-weight="400" fill="#8A94B0" textLength="23.12" lengthAdjust="spacingAndGlyphs">-15</text>
<text x="2625.77" y="1070.7" font-size="16.00" font-weight="400" fill="#8A94B0" textLength="17.80" lengthAdjust="spacingAndGlyphs">nu</text>
<polyline points="2209.4,989.2 2230.7,989.2 2245.6,957.4 2259.9,957.4 2274.4,989.2 2404.1,989.2 2418.1,988.5 2426.7,1021.2 2434.5,989.2 2644.3,989.2" fill="none" stroke="#673AB4" stroke-width="4.2" stroke-linejoin="round" stroke-linecap="butt"/>
<polyline points="2209.4,926.1 2476.5,926.1 2506.4,894.3 2513.5,926.1 2513.5,894.3 2520.9,926.1 2644.3,926.1" fill="none" stroke="#BF7ADC" stroke-width="4.2" stroke-linejoin="round" stroke-linecap="butt"/>
<polyline points="2209.4,863.0 2274.4,863.0 2289.1,831.2 2303.6,863.0 2317.6,863.5 2331.6,862.8 2346.1,863.0 2353.8,831.2 2397.8,831.2 2404.8,863.0 2412.3,863.9 2418.8,863.0 2426.7,831.2 2434.0,863.0 2441.0,826.1 2448.5,863.0 2455.5,863.9 2463.0,863.0 2470.2,831.2 2477.7,863.0 2485.9,863.9 2504.6,863.0 2549.4,863.0 2557.2,895.0 2564.2,863.0 2571.2,861.6 2578.9,863.0 2578.9,895.0 2600.9,863.0 2644.3,863.0" fill="none" stroke="#2443E4" stroke-width="4.2" stroke-linejoin="round" stroke-linecap="butt"/>
<text x="919.18" y="1235.8" font-size="23.84" font-weight="700" fill="#17232D" textLength="197.74" lengthAdjust="spacingAndGlyphs" stroke="#17232D" stroke-width="0.45">Buitenverlichting</text>
<text x="1146.90" y="1231.3" font-size="17.00" font-weight="400" fill="#9CA3B4" textLength="256.83" lengthAdjust="spacingAndGlyphs">25 seconden geleden bijgewerkt</text>
<path d="M956.28 1300.29 A14.00 14.00 0 1 0 973.32 1300.29" fill="none" stroke="#0ACF6B" stroke-width="4" stroke-linecap="round"/><path d="M964.80 1297.70 V1311.31" stroke="#0ACF6B" stroke-width="4" stroke-linecap="round"/>
<text x="1272.31" y="1335.2" font-size="71.66" font-weight="700" fill="#17232D" textLength="129.96" lengthAdjust="spacingAndGlyphs" stroke="#17232D" stroke-width="1.0">0 W</text>
<text x="940.36" y="1424.4" font-size="23.84" font-weight="700" fill="#17232D" textLength="70.27" lengthAdjust="spacingAndGlyphs">0,00 A</text>
<text x="940.48" y="1460.2" font-size="18.31" font-weight="400" fill="#9CA3B4" textLength="58.21" lengthAdjust="spacingAndGlyphs">Stroom</text>
<text x="1196.21" y="1424.4" font-size="23.84" font-weight="700" fill="#17232D" textLength="78.95" lengthAdjust="spacingAndGlyphs">223,6 V</text>
<text x="1196.92" y="1460.2" font-size="18.31" font-weight="400" fill="#9CA3B4" textLength="59.86" lengthAdjust="spacingAndGlyphs">Voltage</text>
<text x="939.83" y="1550.6" font-size="20.64" font-weight="700" fill="#17232D" textLength="116.91" lengthAdjust="spacingAndGlyphs" stroke="#17232D" stroke-width="0.45">Meterstand</text>
<text x="960.27" y="1630.2" font-size="35.30" font-weight="700" fill="#fff" textLength="24.32" lengthAdjust="spacingAndGlyphs">0</text>
<text x="1005.57" y="1630.2" font-size="35.30" font-weight="700" fill="#fff" textLength="24.32" lengthAdjust="spacingAndGlyphs">0</text>
<text x="1050.99" y="1630.2" font-size="35.30" font-weight="700" fill="#fff" textLength="21.83" lengthAdjust="spacingAndGlyphs">2</text>
<text x="1094.99" y="1630.2" font-size="35.30" font-weight="700" fill="#fff" textLength="24.09" lengthAdjust="spacingAndGlyphs">0</text>
<text x="1126.49" y="1630.2" font-size="35.30" font-weight="700" fill="#fff" textLength="14.76" lengthAdjust="spacingAndGlyphs">,</text>
<text x="1162.05" y="1630.2" font-size="35.30" font-weight="700" fill="#fff" textLength="15.90" lengthAdjust="spacingAndGlyphs">1</text>
<text x="1204.41" y="1630.2" font-size="35.30" font-weight="700" fill="#fff" textLength="23.88" lengthAdjust="spacingAndGlyphs">9</text>
<text x="1248.17" y="1630.2" font-size="35.30" font-weight="700" fill="#fff" textLength="24.32" lengthAdjust="spacingAndGlyphs">0</text>
<text x="1301.61" y="1625.9" font-size="24.60" font-weight="700" fill="#fff" textLength="53.97" lengthAdjust="spacingAndGlyphs">kWh</text>
<path d="M1563.96 1235.28 A8.60 8.60 0 1 0 1574.44 1235.28" fill="none" stroke="#0ACF6B" stroke-width="2.6" stroke-linecap="round"/><path d="M1569.20 1233.64 V1242.09" stroke="#0ACF6B" stroke-width="2.6" stroke-linecap="round"/>
<text x="1622.78" y="1249.0" font-size="23.84" font-weight="700" fill="#17232D" textLength="197.74" lengthAdjust="spacingAndGlyphs" stroke="#17232D" stroke-width="0.45">Buitenverlichting</text>
<text x="1933.09" y="1257.0" font-size="47.38" font-weight="700" fill="#17232D" textLength="90.56" lengthAdjust="spacingAndGlyphs" stroke="#17232D" stroke-width="0.8">0 W</text>
<text x="1541.03" y="1409.8" font-size="17.50" font-weight="700" fill="#4193D8" textLength="58.68" lengthAdjust="spacingAndGlyphs" font-style="italic" style="font-family:'Liberation Serif',serif" stroke="#4193D8" stroke-width="0.5">Shelly</text>
<path d="M1563 1410.3 H1602" stroke="#3D90D6" stroke-width="1.3"/>
<text x="1622.87" y="1413.4" font-size="23.84" font-weight="700" fill="#17232D" textLength="64.88" lengthAdjust="spacingAndGlyphs" stroke="#17232D" stroke-width="0.45">Boiler</text>
<text x="1871.99" y="1421.4" font-size="47.38" font-weight="700" fill="#17232D" textLength="151.67" lengthAdjust="spacingAndGlyphs" stroke="#17232D" stroke-width="0.8">546 W</text>
<path d="M1563.96 1564.02 A8.60 8.60 0 1 0 1574.44 1564.02" fill="none" stroke="#A9AEBB" stroke-width="2.6" stroke-linecap="round"/><path d="M1569.20 1562.38 V1570.83" stroke="#A9AEBB" stroke-width="2.6" stroke-linecap="round"/>
<text x="1630.48" y="1577.7" font-size="23.84" font-weight="700" fill="#17232D" textLength="150.87" lengthAdjust="spacingAndGlyphs" stroke="#17232D" stroke-width="0.45">Wasmachine</text>
<text x="1933.09" y="1585.7" font-size="47.38" font-weight="700" fill="#17232D" textLength="90.56" lengthAdjust="spacingAndGlyphs" stroke="#17232D" stroke-width="0.8">0 W</text>
<path d="M1563.96 1728.39 A8.60 8.60 0 1 0 1574.44 1728.39" fill="none" stroke="#0ACF6B" stroke-width="2.6" stroke-linecap="round"/><path d="M1569.20 1726.75 V1735.20" stroke="#0ACF6B" stroke-width="2.6" stroke-linecap="round"/>
<text x="1624.15" y="1742.1" font-size="23.84" font-weight="700" fill="#17232D" textLength="28.40" lengthAdjust="spacingAndGlyphs" stroke="#17232D" stroke-width="0.45">TV</text>
<text x="1934.16" y="1750.1" font-size="47.38" font-weight="700" fill="#17232D" textLength="89.49" lengthAdjust="spacingAndGlyphs" stroke="#17232D" stroke-width="0.8">6 W</text>
<text x="2163.84" y="1236.0" font-size="23.84" font-weight="700" fill="#17232D" textLength="153.79" lengthAdjust="spacingAndGlyphs" stroke="#17232D" stroke-width="0.45">Voltage fase 1</text>
<path d="M2210.8 1533.9 A193.6 193.6 0 0 1 2598.0 1533.9" fill="none" stroke="#E5E8EE" stroke-width="14" stroke-linecap="round"/>
<path d="M2254.6 1411.3 A193.6 193.6 0 0 1 2391.4 1340.7" fill="none" stroke="#0075EB" stroke-width="15" stroke-linecap="round"/>
<circle cx="2254.6" cy="1411.3" r="3.6" fill="#fff"/><circle cx="2391.4" cy="1340.7" r="3.6" fill="#fff"/>
<path d="M2182.6 1533.9 L2196.6 1533.9" stroke="#1F2429" stroke-width="2.2" stroke-linecap="round"/>
<path d="M2247.6 1377.1 L2257.5 1387.0" stroke="#1F2429" stroke-width="2.2" stroke-linecap="round"/>
<path d="M2404.4 1312.1 L2404.4 1326.1" stroke="#1F2429" stroke-width="2.2" stroke-linecap="round"/>
<path d="M2561.2 1377.1 L2551.3 1387.0" stroke="#1F2429" stroke-width="2.2" stroke-linecap="round"/>
<path d="M2626.2 1533.9 L2612.2 1533.9" stroke="#1F2429" stroke-width="2.2" stroke-linecap="round"/>
<polygon points="2394.7,1538.0 2336.4,1377.0 2339.3,1375.8 2414.1,1529.8" fill="#F9405F" stroke="#F9405F" stroke-width="1.5" stroke-linejoin="round"/>
<rect x="2355.7" y="1510" width="97.4" height="48" rx="11" fill="#212529"/>
<text x="2370.00" y="1543.6" font-size="25.58" font-weight="700" fill="#fff" textLength="68.08" lengthAdjust="spacingAndGlyphs">224 V</text>
<text x="2376.55" y="1305.3" font-size="19.77" font-weight="400" fill="#9AA0AC" textLength="54.54" lengthAdjust="spacingAndGlyphs">230 V</text>
<text x="2183.78" y="1565.8" font-size="19.77" font-weight="400" fill="#9AA0AC" textLength="53.11" lengthAdjust="spacingAndGlyphs">207 V</text>
<text x="2570.96" y="1565.8" font-size="19.77" font-weight="400" fill="#9AA0AC" textLength="54.13" lengthAdjust="spacingAndGlyphs">253 V</text>
<path d="M2200.7 1686.0 C2201.9 1676.2 2203.4 1673.3 2205.6 1673.3 C2208.9 1673.3 2212.9 1685.2 2217.8 1690.8 M2222.0 1690.6 L2225.6 1679.8" fill="none" stroke="#B878DE" stroke-width="2.6" stroke-linecap="round"/><circle cx="2219.9" cy="1692.8" r="2.7" fill="none" stroke="#B878DE" stroke-width="2.4"/>
<path d="M2452.7 1688.6 L2456.1 1678.2 M2460.7 1678.0 C2464.4 1684.2 2468.9 1695.4 2472.5 1695.4 C2475.4 1695.4 2477.2 1689.2 2478.2 1682.9" fill="none" stroke="#B878DE" stroke-width="2.6" stroke-linecap="round"/><circle cx="2458.4" cy="1676.2" r="2.7" fill="none" stroke="#B878DE" stroke-width="2.4"/>
<text x="2264.02" y="1675.0" font-size="22.97" font-weight="700" fill="#17232D" textLength="67.41" lengthAdjust="spacingAndGlyphs">217,1 V</text>
<text x="2263.22" y="1703.5" font-size="18.02" font-weight="400" fill="#9AA0AC" textLength="91.09" lengthAdjust="spacingAndGlyphs">Min (08:14)</text>
<text x="2516.20" y="1675.0" font-size="22.97" font-weight="700" fill="#17232D" textLength="79.56" lengthAdjust="spacingAndGlyphs">229,0 V</text>
<text x="2515.49" y="1703.5" font-size="18.02" font-weight="400" fill="#9AA0AC" textLength="98.05" lengthAdjust="spacingAndGlyphs">Max (09:49)</text>
</svg>
</div>
</body></html>
